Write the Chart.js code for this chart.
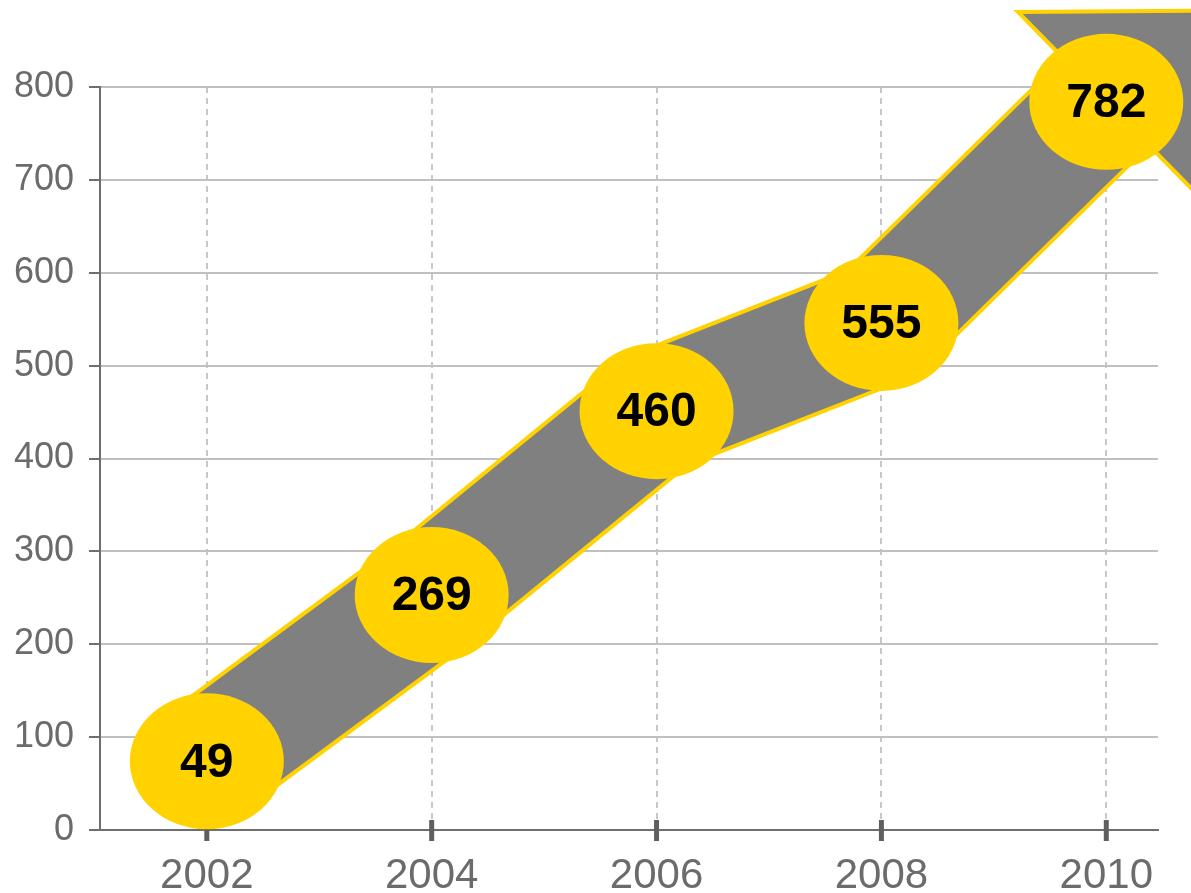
<!DOCTYPE html>
<html lang="en">
<head>
<meta charset="UTF-8">
<title>Growth 2002-2010</title>
<script src="https://cdn.jsdelivr.net/npm/chart.js@4"></script>
<style>
    html, body { margin: 0; padding: 0; background: #fff; }
    .wrap { width: 1191px; height: 893px; position: relative; }
</style>
</head>
<body>
<div class="wrap"><canvas id="chart"></canvas></div>
<script>
    // data
    const years = [2002, 2004, 2006, 2008, 2010];
    const shownValues = [49, 269, 460, 555, 782];
    // where each bubble sits against the value axis
    const bandValues = [74, 253, 451, 546, 784];
    const yTicks = [0, 100, 200, 300, 400, 500, 600, 700, 800];

    const YELLOW = '#FFD200';
    const GREY = '#808080';
    const AXIS = '#6e6e6e';
    const LABEL = '#6b6b6b';

    Chart.defaults.font.family = '"Liberation Sans", Arial, sans-serif';

    const bandPoints = years.map((v, i) => ({ x: v, y: bandValues[i] }));

    // thick x tick marks, arrow head, bubbles and their numbers
    const bubbles = {
        id: 'bubbles',
        beforeDatasetsDraw(chart) {
            const { ctx, scales: { x }, chartArea } = chart;
            ctx.save();
            ctx.strokeStyle = '#5f5f5f';
            ctx.lineWidth = 5;
            years.forEach(v => {
                const px = x.getPixelForValue(v);
                ctx.beginPath();
                ctx.moveTo(px, chartArea.bottom - 10);
                ctx.lineTo(px, chartArea.bottom + 11);
                ctx.stroke();
            });
            ctx.restore();
        },
        afterDatasetsDraw(chart) {
            const { ctx, scales: { x, y } } = chart;
            const n = years.length;
            const x0 = x.getPixelForValue(years[n - 2]), y0 = y.getPixelForValue(bandValues[n - 2]);
            const x1 = x.getPixelForValue(years[n - 1]), y1 = y.getPixelForValue(bandValues[n - 1]);
            const len = Math.hypot(x1 - x0, y1 - y0);
            const ux = (x1 - x0) / len, uy = (y1 - y0) / len;
            const nx = -uy, ny = ux;
            const half = 126, headLen = 130;

            ctx.save();
            ctx.beginPath();
            ctx.moveTo(x1 + nx * half, y1 + ny * half);
            ctx.lineTo(x1 + ux * headLen, y1 + uy * headLen);
            ctx.lineTo(x1 - nx * half, y1 - ny * half);
            ctx.closePath();
            ctx.fillStyle = GREY;
            ctx.fill();
            ctx.strokeStyle = YELLOW;
            ctx.lineWidth = 4;
            ctx.lineJoin = 'miter';
            ctx.stroke();

            years.forEach((v, i) => {
                const px = x.getPixelForValue(v);
                const py = y.getPixelForValue(bandValues[i]);
                ctx.beginPath();
                ctx.ellipse(px, py, 77, 68, 0, 0, Math.PI * 2);
                ctx.fillStyle = YELLOW;
                ctx.fill();
                ctx.fillStyle = '#000';
                ctx.font = 'bold 48px "Liberation Sans", Arial, sans-serif';
                ctx.textAlign = 'center';
                ctx.textBaseline = 'middle';
                ctx.fillText(String(shownValues[i]), px, py + 2);
            });
            ctx.restore();
        }
    };

    new Chart(document.getElementById('chart'), {
        type: 'line',
        data: {
            datasets: [
                {
                    data: bandPoints,
                    borderColor: GREY,
                    borderWidth: 118,
                    borderCapStyle: 'butt',
                    borderJoinStyle: 'miter',
                    pointRadius: 0,
                    tension: 0,
                    clip: false,
                    order: 1
                },
                {
                    data: bandPoints,
                    borderColor: YELLOW,
                    borderWidth: 126,
                    borderCapStyle: 'butt',
                    borderJoinStyle: 'miter',
                    pointRadius: 0,
                    tension: 0,
                    clip: false,
                    order: 2
                }
            ]
        },
        options: {
            responsive: true,
            maintainAspectRatio: false,
            animation: false,
            layout: { padding: { top: 87, right: 33, left: 0, bottom: 0 } },
            plugins: { legend: { display: false }, tooltip: { enabled: false } },
            events: [],
            scales: {
                x: {
                    type: 'linear',
                    min: 2001.05,
                    max: 2010.46,
                    afterBuildTicks: s => { s.ticks = years.map(v => ({ value: v })); },
                    afterFit: s => { s.height = 63; },
                    ticks: {
                        callback: v => String(v),
                        color: LABEL,
                        font: { size: 42 },
                        padding: 10,
                        maxRotation: 0,
                        autoSkip: false
                    },
                    grid: { color: '#c8c8c8', lineWidth: 2, tickLength: 11, tickColor: 'rgba(0,0,0,0)' },
                    border: { color: AXIS, width: 2, dash: [6, 5] }
                },
                y: {
                    min: 0,
                    max: 800,
                    afterBuildTicks: s => { s.ticks = yTicks.map(v => ({ value: v })); },
                    afterFit: s => { s.width = 100; },
                    ticks: { color: LABEL, font: { size: 36 }, padding: 15 },
                    grid: { color: '#c0c0c0', lineWidth: 2, tickLength: 11, tickColor: AXIS, tickWidth: 2 },
                    border: { color: AXIS, width: 2 }
                }
            }
        },
        plugins: [bubbles]
    });
</script>
</body>
</html>
